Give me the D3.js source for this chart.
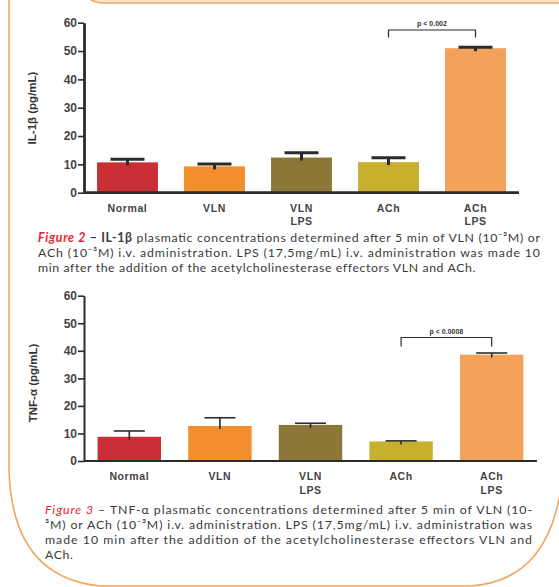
<!DOCTYPE html>
<html>
<head>
<meta charset="utf-8">
<script src="https://cdn.jsdelivr.net/npm/d3@7"></script>
<style>
  body { margin: 0; background: #fff; }
  svg { display: block; }
</style>
</head>
<body>
<svg id="fig" width="559" height="587"></svg>
<script>
// groups and values
var groups = ["Normal", "VLN", "VLN LPS", "ACh", "ACh LPS"];
var barColors = ["#c92f35", "#f28e2b", "#8b7838", "#c8b02f", "#f4a15c"];
var il1bMean = [10.7, 9.3, 12.4, 10.8, 51.0];
var il1bErr = [1.1, 0.8, 1.7, 1.5, 0.3];
var tnfMean = [8.8, 12.7, 13.1, 7.1, 38.6];
var tnfErr = [2.1, 3.0, 0.6, 0.2, 0.6];
var yTicks = [0, 10, 20, 30, 40, 50, 60];

var svg = d3.select("#fig");
var orange = "#f6a45e";
var ink = "#2b2b2b";

/* frame round the figures */
svg.append("rect")
    .attr("x", 82).attr("y", -30).attr("width", 520).attr("height", 33)
    .attr("rx", 22)
    .attr("fill", "#fde4c8").attr("stroke", orange).attr("stroke-width", 1.5);
svg.append("path")
    .attr("d", "M9,0 L9,470 C11,540 40,580 100,586 L470,586 C530,582 553,540 561,488")
    .attr("fill", "none").attr("stroke", orange).attr("stroke-width", 1.6);

function panel(opt) {
    var g = svg.append("g");
    var x = d3.scaleBand().domain(groups).range(opt.xRange)
        .paddingInner(0.3).paddingOuter(0.15);
    var y = d3.scaleLinear().domain([0, 60]).range(opt.yRange);

    var yAxis = g.append("g")
        .attr("transform", "translate(" + opt.xRange[0] + ",0)")
        .call(d3.axisLeft(y).tickValues(yTicks).tickSize(6).tickSizeOuter(0).tickPadding(1));
    yAxis.select(".domain").attr("stroke", ink).attr("stroke-width", opt.axisW);
    yAxis.selectAll(".tick line").attr("stroke", ink).attr("stroke-width", 1.6);
    yAxis.selectAll(".tick text")
        .attr("fill", "#444").style("font", "bold 12px 'Liberation Sans', Arial, sans-serif");

    g.append("text")
        .attr("transform", "translate(" + opt.labelX + "," + opt.labelY + ") rotate(-90)")
        .attr("text-anchor", "middle")
        .attr("dy", "0.35em")
        .attr("fill", "#333")
        .style("font", "bold 11.5px 'Liberation Sans', Arial, sans-serif")
        .text(opt.yLabel);

    var data = groups.map(function(d, i) {
        return {name: d, mean: opt.mean[i], err: opt.err[i], color: barColors[i]};
    });

    g.append("g").selectAll("rect").data(data).enter().append("rect")
        .attr("x", function(d) { return x(d.name); })
        .attr("width", x.bandwidth())
        .attr("y", function(d) { return y(d.mean); })
        .attr("height", function(d) { return y(0) - y(d.mean); })
        .attr("fill", function(d) { return d.color; });

    // one-sided error bars (mean + SD), stem dips a little into the bar
    var eb = g.append("g").selectAll("g").data(data).enter().append("g");
    eb.append("line")
        .attr("x1", function(d) { return x(d.name) + x.bandwidth() / 2; })
        .attr("x2", function(d) { return x(d.name) + x.bandwidth() / 2; })
        .attr("y1", function(d) { return y(d.mean) + 3; })
        .attr("y2", function(d) { return y(d.mean + d.err); })
        .attr("stroke", ink).attr("stroke-width", opt.errW);
    eb.append("line")
        .attr("x1", function(d) { return x(d.name) + x.bandwidth() / 2 - opt.cap / 2; })
        .attr("x2", function(d) { return x(d.name) + x.bandwidth() / 2 + opt.cap / 2; })
        .attr("y1", function(d) { return y(d.mean + d.err); })
        .attr("y2", function(d) { return y(d.mean + d.err); })
        .attr("stroke", ink).attr("stroke-width", opt.errW);

    g.append("line")
        .attr("x1", opt.xRange[0]).attr("x2", opt.xRange[1])
        .attr("y1", y(0)).attr("y2", y(0))
        .attr("stroke", ink).attr("stroke-width", opt.axisW);

    var lab = g.append("g").selectAll("text").data(groups).enter().append("text")
        .attr("x", function(d) { return x(d) + x.bandwidth() / 2; })
        .attr("y", y(0) + 19)
        .attr("text-anchor", "middle")
        .attr("fill", "#444")
        .style("font", "bold 10.5px 'Liberation Sans', Arial, sans-serif")
        .style("letter-spacing", "0.6px");
    lab.selectAll("tspan").data(function(d) { return d.split(" "); }).enter().append("tspan")
        .attr("x", function() { var p = d3.select(this.parentNode).datum(); return x(p) + x.bandwidth() / 2; })
        .attr("dy", function(d, i) { return i ? 13.5 : 0; })
        .text(function(d) { return d; });

    // significance bracket ACh vs ACh LPS
    var x1 = x("ACh") + x.bandwidth() / 2, x2 = x("ACh LPS") + x.bandwidth() / 2;
    g.append("path")
        .attr("d", "M" + x1 + "," + (opt.brY + opt.brH) + "V" + opt.brY + "H" + x2 + "V" + (opt.brY + opt.brH))
        .attr("fill", "none").attr("stroke", ink).attr("stroke-width", 1.2);
    g.append("text")
        .attr("x", (x1 + x2) / 2).attr("y", opt.brY - 4)
        .attr("text-anchor", "middle").attr("fill", "#333")
        .style("font", "bold 7px 'Liberation Sans', Arial, sans-serif")
        .text(opt.pText);
}

panel({
    xRange: [84, 519], yRange: [192.7, 22.7],
    mean: il1bMean, err: il1bErr,
    yLabel: "IL-1β (pg/mL)", labelX: 32, labelY: 108,
    axisW: 2.8, errW: 3, cap: 34,
    brY: 30, brH: 7.5, pText: "p < 0.002"
});

panel({
    xRange: [84, 537], yRange: [461, 295.7],
    mean: tnfMean, err: tnfErr,
    yLabel: "TNF-α (pg/mL)", labelX: 33, labelY: 383,
    axisW: 2, errW: 1.6, cap: 31,
    brY: 337.5, brH: 9, pText: "p < 0.0008"
});

/* captions, justified like the page */
var capFont = "Lato, 'Open Sans', sans-serif";
function caption(lines, x0, x1, y0, lh) {
    lines.forEach(function(parts, i) {
        var t = svg.append("text")
            .attr("x", x0).attr("y", y0 + i * lh)
            .attr("fill", "#3a3a3a")
            .style("font-family", capFont).style("font-size", "12.3px");
        if (i < lines.length - 1) t.attr("textLength", x1 - x0).attr("lengthAdjust", "spacing");
        else t.style("letter-spacing", "0.6px");
        parts.forEach(function(p) {
            var s = t.append("tspan").text(p.t);
            if (p.red) s.attr("fill", "#e8242c");
            if (p.it) s.style("font-style", "italic");
            if (p.b) s.style("font-weight", "bold");
        });
    });
}

caption([
    [{t: "Figure 2", red: 1, it: 1, b: 1}, {t: " – IL-1β", b: 1},
     {t: " plasmatic concentrations determined after 5 min of VLN (10⁻³M) or"}],
    [{t: "ACh (10⁻³M) i.v. administration. LPS (17,5mg/mL) i.v. administration was made 10"}],
    [{t: "min after the addition of the acetylcholinesterase effectors VLN and ACh."}]
], 38, 540, 241.5, 15);

caption([
    [{t: "Figure 3", red: 1, it: 1},
     {t: " – TNF-α plasmatic concentrations determined after 5 min of VLN (10-"}],
    [{t: "³M) or ACh (10⁻³M) i.v. administration. LPS (17,5mg/mL) i.v. administration was"}],
    [{t: "made 10 min after the addition of the acetylcholinesterase effectors VLN and"}],
    [{t: "ACh."}]
], 45, 532, 513.5, 15);
</script>
</body>
</html>
